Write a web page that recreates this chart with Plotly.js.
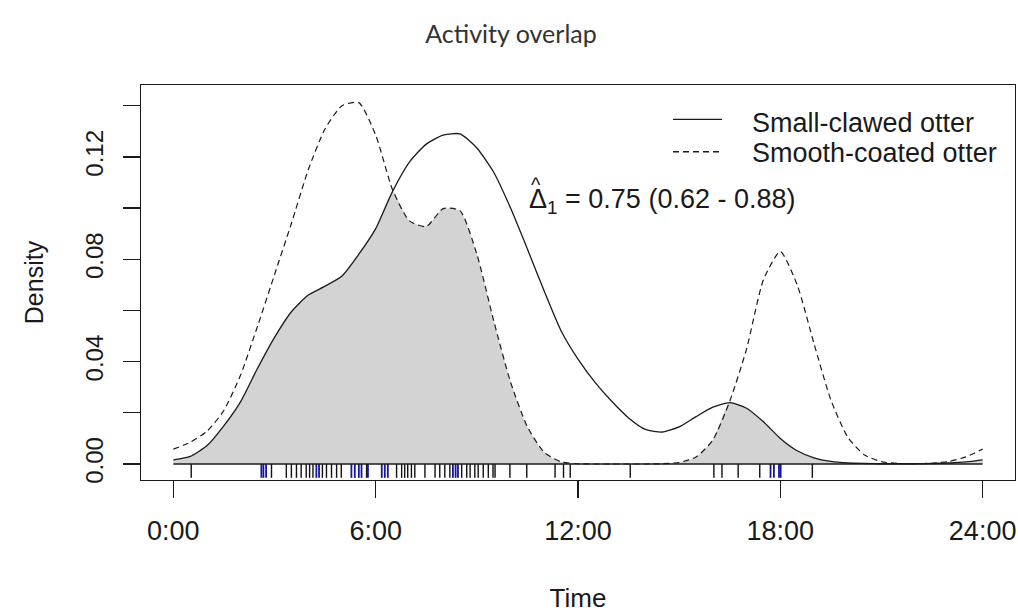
<!DOCTYPE html>
<html>
<head>
<meta charset="utf-8">
<script src="https://cdn.plot.ly/plotly-3.0.1.min.js"></script>
<style>
  html, body { margin: 0; padding: 0; background: #ffffff; }
  #chart { width: 1018px; height: 614px; }
</style>
</head>
<body>
<div id="chart"></div>
<script>
// ---- Data ----
const hours = [0,0.5,1,1.5,2,2.5,3,3.5,4,4.5,5,5.5,6,6.5,7,7.5,8,8.5,9,9.5,10,10.5,11,11.5,12,
               12.5,13,13.5,14,14.5,15,15.5,16,16.5,17,17.5,18,18.5,19,19.5,20,20.5,21,21.5,22,22.5,23,23.5,24];

const smallClawedDensity = [0.0016,0.0030,0.0072,0.0150,0.0245,0.0375,0.0495,0.0595,0.0660,0.0695,0.0735,0.0820,0.0920,0.1065,0.1180,0.1250,0.1285,0.1290,0.1235,0.1140,0.1000,0.0840,0.0675,0.0520,0.0410,
                            0.0320,0.0245,0.0180,0.0135,0.0125,0.0145,0.0185,0.0222,0.0240,0.0218,0.0165,0.0100,0.0052,0.0024,0.0010,0.0004,0.0002,0.0001,0.0001,0.0001,0.0002,0.0004,0.0008,0.0016];

const smoothCoatedDensity = [0.0058,0.0085,0.0128,0.0210,0.0350,0.0540,0.0740,0.0940,0.1150,0.1310,0.1400,0.1412,0.1285,0.1072,0.0950,0.0928,0.0998,0.0990,0.0820,0.0560,0.0320,0.0145,0.0045,0.0008,0.0001,
                             0,0,0,0,0.0001,0.0006,0.0027,0.0094,0.0245,0.0450,0.0720,0.0830,0.0700,0.0470,0.0250,0.0105,0.0035,0.0009,0.0002,0.0001,0.0003,0.0010,0.0028,0.0058];

// Rug: observation times (hours)
const smallClawedTimes = [0.53,2.91,3.35,3.50,3.65,3.79,3.94,4.04,4.14,4.42,4.54,4.69,4.84,4.98,5.73,6.62,6.77,6.86,6.95,7.06,7.16,7.46,7.76,7.90,8.05,8.20,
                          8.55,8.70,8.80,8.94,9.04,9.19,9.34,9.48,9.54,9.98,10.48,11.32,11.57,11.77,13.55,16.03,16.27,16.75,17.39,18.95];
const smoothCoatedTimes = [2.61,2.67,2.75,4.24,4.32,5.28,5.38,5.50,5.58,5.77,6.18,6.27,6.36,8.29,8.37,8.44,17.71,17.81,17.96,18.01];

const seriesNames = ['Small-clawed otter', 'Smooth-coated otter'];
const xTickVals = [0, 6, 12, 18, 24];
const xTickText = ['0:00', '6:00', '12:00', '18:00', '24:00'];
const yTickVals = [0, 0.04, 0.08, 0.12];
const yTickText = ['0.00', '0.04', '0.08', '0.12'];
const overlapLabel = 'Δ<sub>1</sub> = 0.75 (0.62 - 0.88)';

// ---- Derived ----
const overlapDensity = hours.map((h, i) => Math.min(smallClawedDensity[i], smoothCoatedDensity[i]));

const RUG_BOTTOM = -0.0054, RUG_TOP = 0;
function rugXY(times) {
  const x = [], y = [];
  times.forEach(t => { x.push(t, t, null); y.push(RUG_BOTTOM, RUG_TOP, null); });
  return {x, y};
}
const rugS = rugXY(smallClawedTimes);
const rugD = rugXY(smoothCoatedTimes);

const FONT = 'Liberation Sans, Arial, sans-serif';
const INK = '#1a1a1a';
const DASH = '6px,4px';

const traces = [
  { x: hours, y: overlapDensity, type: 'scatter', mode: 'lines', fill: 'tozeroy',
    fillcolor: '#d3d3d3', line: { width: 0, shape: 'spline', smoothing: 0.6, color: '#d3d3d3' },
    showlegend: false, hoverinfo: 'skip' },
  { x: rugS.x, y: rugS.y, type: 'scatter', mode: 'lines', line: { color: '#111111', width: 1.4 },
    showlegend: false, hoverinfo: 'skip' },
  { x: rugD.x, y: rugD.y, type: 'scatter', mode: 'lines', line: { color: '#1414a0', width: 1.8 },
    showlegend: false, hoverinfo: 'skip' },
  { x: hours, y: smallClawedDensity, type: 'scatter', mode: 'lines', name: seriesNames[0],
    line: { color: INK, width: 1.3, shape: 'spline', smoothing: 0.6 }, showlegend: false },
  { x: hours, y: smoothCoatedDensity, type: 'scatter', mode: 'lines', name: seriesNames[1],
    line: { color: INK, width: 1.2, dash: DASH, shape: 'spline', smoothing: 0.6 }, showlegend: false }
];

// legend (key lines + labels) placed in paper coordinates
const legendRows = [
  { lineY: 0.913, textY: 0.903, dash: 'solid', label: seriesNames[0] },
  { lineY: 0.831, textY: 0.827, dash: DASH, label: seriesNames[1] }
];
const legendShapes = legendRows.map(r => ({
  type: 'line', xref: 'paper', yref: 'paper', x0: 0.6087, x1: 0.6648, y0: r.lineY, y1: r.lineY,
  line: { color: INK, width: 1.3, dash: r.dash }
}));
const legendLabels = legendRows.map(r => ({
  xref: 'paper', yref: 'paper', x: 0.6968, y: r.textY, text: r.label, showarrow: false,
  xanchor: 'left', yanchor: 'middle', font: { family: FONT, size: 27, color: INK }
}));

const layout = {
  width: 1018, height: 614,
  margin: { l: 141, r: 3, t: 85, b: 134 },
  paper_bgcolor: '#ffffff', plot_bgcolor: '#ffffff',
  font: { family: FONT, color: INK },
  title: { text: 'Activity overlap', font: { family: 'Lato, Open Sans, sans-serif', size: 25, color: '#333333' },
           x: 0.502, xref: 'container', xanchor: 'center', y: 0.944, yref: 'container', yanchor: 'middle' },
  xaxis: {
    range: [-0.96, 24.96], tickvals: xTickVals, ticktext: xTickText,
    ticks: 'outside', ticklen: 17, tickwidth: 1.3, tickcolor: INK,
    showline: true, linewidth: 1.3, linecolor: INK, mirror: true,
    showgrid: false, zeroline: false,
    tickfont: { family: FONT, size: 27, color: INK }, ticklabelstandoff: 9,
    title: { text: 'Time', font: { family: FONT, size: 26, color: INK }, standoff: 44 }
  },
  yaxis: {
    range: [-0.00625, 0.1481], tickvals: yTickVals, ticktext: yTickText, tickangle: -90,
    ticks: 'outside', ticklen: 17, tickwidth: 1.3, tickcolor: INK,
    minor: { dtick: 0.02, tick0: 0, ticks: 'outside', ticklen: 17, tickwidth: 1.3, tickcolor: INK, showgrid: false },
    showline: true, linewidth: 1.3, linecolor: INK, mirror: true,
    showgrid: false, zeroline: false,
    tickfont: { family: FONT, size: 24, color: INK }, ticklabelstandoff: 10,
    title: { text: 'Density', font: { family: FONT, size: 25, color: INK }, standoff: 30 }
  },
  shapes: [
    { type: 'line', xref: 'x', yref: 'y', x0: xTickVals[0], x1: xTickVals[xTickVals.length - 1], y0: 0, y1: 0,
      line: { color: INK, width: 1.3 }, layer: 'above' }
  ].concat(legendShapes),
  annotations: [
    { xref: 'x', yref: 'y', x: 10.5, y: 0.1027, text: overlapLabel, showarrow: false,
      xanchor: 'left', yanchor: 'middle', font: { family: FONT, size: 27, color: INK } },
    { xref: 'x', yref: 'y', x: 10.76, y: 0.1092, text: '^', showarrow: false,
      xanchor: 'center', yanchor: 'middle', font: { family: FONT, size: 20, color: INK } }
  ].concat(legendLabels),
  showlegend: false
};

Plotly.newPlot('chart', traces, layout, { displayModeBar: false, staticPlot: true });
</script>
</body>
</html>
